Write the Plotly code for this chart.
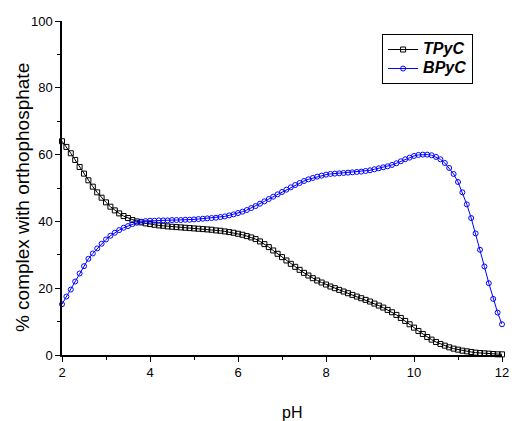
import plotly.graph_objects as go

ph = [round(2.0 + 0.1 * i, 1) for i in range(101)]

tpyc = [64.0, 62.3, 60.4, 58.4, 56.3, 54.3, 52.3, 50.4, 48.7, 47.1,
        45.7, 44.4, 43.3, 42.4, 41.6, 41.0, 40.4, 40.0, 39.7, 39.4,
        39.2, 39.0, 38.8, 38.7, 38.5, 38.4, 38.3, 38.2, 38.1, 38.0,
        37.9, 37.8, 37.7, 37.6, 37.5, 37.3, 37.2, 37.0, 36.8, 36.6,
        36.3, 36.0, 35.6, 35.2, 34.7, 34.0, 33.2, 32.3, 31.3, 30.3,
        29.3, 28.3, 27.3, 26.4, 25.5, 24.6, 23.8, 23.0, 22.3, 21.7,
        21.1, 20.5, 20.0, 19.5, 19.0, 18.5, 18.0, 17.5, 17.0, 16.5,
        16.0, 15.4, 14.8, 14.2, 13.5, 12.8, 12.0, 11.1, 10.2, 9.2,
        8.2, 7.2, 6.3, 5.4, 4.6, 3.9, 3.3, 2.8, 2.3, 1.9,
        1.6, 1.3, 1.1, 0.9, 0.7, 0.6, 0.5, 0.4, 0.3, 0.2,
        0.2]

bpyc = [15.2, 17.5, 19.6, 22.0, 24.4, 26.6, 28.8, 30.4, 31.9, 33.3,
        34.6, 35.7, 36.6, 37.4, 38.1, 38.6, 39.2, 39.6, 39.9, 40.1,
        40.2, 40.2, 40.3, 40.3, 40.3, 40.4, 40.4, 40.4, 40.5, 40.5,
        40.6, 40.7, 40.8, 40.9, 41.0, 41.1, 41.3, 41.5, 41.8, 42.1,
        42.5, 42.9, 43.4, 44.0, 44.6, 45.3, 46.0, 46.7, 47.4, 48.1,
        48.8, 49.5, 50.2, 50.9, 51.5, 52.1, 52.6, 53.0, 53.4, 53.7,
        54.0, 54.2, 54.3, 54.4, 54.5, 54.6, 54.7, 54.8, 54.9, 55.1,
        55.3, 55.6, 55.9, 56.2, 56.5, 56.9, 57.4, 58.0, 58.6, 59.1,
        59.6, 59.9, 60.0, 60.0, 59.8, 59.3, 58.6, 57.5, 56.0, 54.2,
        51.8, 48.7, 45.1, 41.0, 36.4, 31.5, 26.5, 21.5, 16.8, 12.7,
        9.2]

FONT = "Arial, Liberation Sans, sans-serif"

fig = go.Figure()
fig.add_trace(go.Scatter(
    x=ph, y=tpyc, name="<span style='font-size:16px'><b><i>TPyC</i></b></span>",
    mode="lines+markers",
    line=dict(color="black", width=1),
    marker=dict(symbol="square-open", size=5, color="black", line=dict(width=1)),
    cliponaxis=False))
fig.add_trace(go.Scatter(
    x=ph, y=bpyc, name="<span style='font-size:16px'><b><i>BPyC</i></b></span>",
    mode="lines+markers",
    line=dict(color="#0000ff", width=1),
    marker=dict(symbol="circle-open", size=5, color="#0000ff", line=dict(width=1)),
    cliponaxis=False))

axis_common = dict(
    showgrid=False, zeroline=False, showline=True, linecolor="black", linewidth=1.5,
    ticks="outside", ticklen=5, tickwidth=1, tickcolor="black",
    tickfont=dict(family=FONT, size=13, color="black"),
    minor=dict(ticks="outside", ticklen=3, tickwidth=1, tickcolor="black"),
)

fig.update_xaxes(range=[2, 12], dtick=2, tick0=2, minor_dtick=1, **axis_common)
fig.update_yaxes(range=[0, 100], dtick=20, tick0=0, minor_dtick=10, **axis_common)

fig.update_layout(
    width=518, height=421,
    margin=dict(l=62, r=9, t=21, b=66),
    plot_bgcolor="white", paper_bgcolor="white",
    font=dict(family=FONT, color="black"),
    showlegend=True,
    legend=dict(x=0.7275, y=0.961, xanchor="left", yanchor="top",
                bordercolor="black", borderwidth=1, bgcolor="white",
                font=dict(family=FONT, size=11.5, color="black"),
                tracegroupgap=0, itemwidth=30),
    annotations=[
        dict(text="pH", x=0.5235, y=-0.171, xref="paper", yref="paper",
             showarrow=False, font=dict(family=FONT, size=16, color="black"),
             xanchor="center", yanchor="middle"),
        dict(text="% complex with orthophosphate", x=-0.0895, y=0.4716,
             xref="paper", yref="paper", showarrow=False, textangle=-90,
             font=dict(family=FONT, size=19, color="black"),
             xanchor="center", yanchor="middle"),
    ],
)

fig.write_html("out.html")
